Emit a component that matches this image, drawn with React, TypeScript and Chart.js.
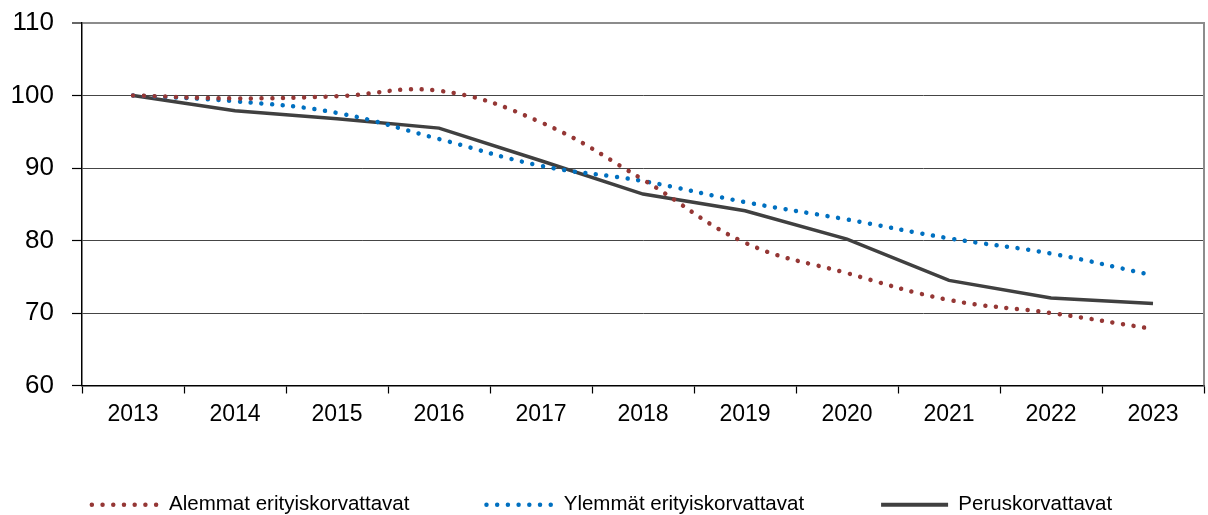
import React, { useEffect, useRef } from "react";
import { Chart, registerables } from "chart.js";

Chart.register(...registerables);

const years = ["2013", "2014", "2015", "2016", "2017", "2018", "2019", "2020", "2021", "2022", "2023"];
const seriesLabels = ["Alemmat erityiskorvattavat", "Ylemmät erityiskorvattavat", "Peruskorvattavat"];
const alemmat = [100, 99.6, 99.9, 100.65, 96.3, 88.4, 79.7, 75.5, 71.8, 70.0, 67.8];
const ylemmat = [100, 99.2, 97.6, 94.0, 90.3, 88.2, 85.3, 82.9, 80.3, 78.2, 75.2];
const perus = [100, 97.9, 96.8, 95.5, 91.0, 86.4, 84.1, 80.2, 74.5, 72.06, 71.3];
const yTicks = [60, 70, 80, 90, 100, 110];

const FONT = "'Liberation Sans', Arial, Helvetica, sans-serif";

export default function App() {
  const ref = useRef<HTMLCanvasElement>(null);

  useEffect(() => {
    const frame = {
      id: "frame",
      beforeDatasetsDraw(chart: any) {
        const { ctx, chartArea: a } = chart;
        ctx.save();
        ctx.strokeStyle = "#8c8c8c";
        ctx.lineWidth = 2;
        ctx.beginPath();
        ctx.moveTo(a.right, a.top - 1);
        ctx.lineTo(a.right, a.bottom);
        ctx.stroke();
        ctx.restore();
      },
    };

    const chart = new Chart(ref.current as HTMLCanvasElement, {
      type: "line",
      data: {
        labels: years,
        datasets: [
          {
            label: seriesLabels[0],
            data: alemmat,
            borderColor: "#953735",
            backgroundColor: "#953735",
            borderWidth: 4.5,
            borderDash: [0.01, 10.7],
            borderCapStyle: "round",
            tension: 0.4,
            pointRadius: 0,
            fill: false,
          },
          {
            label: seriesLabels[1],
            data: ylemmat,
            borderColor: "#0070C0",
            backgroundColor: "#0070C0",
            borderWidth: 4.5,
            borderDash: [0.01, 10.7],
            borderCapStyle: "round",
            tension: 0.4,
            pointRadius: 0,
            fill: false,
          },
          {
            label: seriesLabels[2],
            data: perus,
            borderColor: "#404040",
            backgroundColor: "#404040",
            borderWidth: 3.5,
            tension: 0,
            pointRadius: 0,
            fill: false,
          },
        ],
      } as any,
      options: {
        responsive: false,
        animation: false,
        layout: { padding: { top: 23, right: 4, left: 0, bottom: -10 } },
        plugins: {
          legend: {
            position: "bottom",
            labels: {
              usePointStyle: true,
              pointStyle: "line",
              pointStyleWidth: 67,
              padding: 77,
              color: "#000",
              font: { size: 20.5, family: FONT },
              generateLabels: (c: any) =>
                c.data.datasets.map((ds: any, i: number) => ({
                  text: ds.label,
                  strokeStyle: ds.borderColor,
                  fillStyle: ds.borderColor,
                  lineWidth: ds.borderDash ? 4.5 : 4,
                  lineDash: ds.borderDash || [],
                  lineCap: ds.borderDash ? "round" : "butt",
                  pointStyle: "line",
                  rotation: 0,
                  hidden: false,
                  datasetIndex: i,
                  fontColor: "#000",
                })),
            },
          },
          tooltip: { enabled: false },
        },
        scales: {
          x: {
            offset: true,
            grid: {
              offset: true,
              drawOnChartArea: false,
              drawTicks: true,
              tickLength: 8,
              tickColor: "#000",
              tickWidth: 1.2,
            },
            border: { color: "#000", width: 1.5 },
            ticks: {
              color: "#000",
              font: { size: 23, family: FONT },
              mirror: true,
              padding: -43,
              maxRotation: 0,
            },
            afterFit: (s: any) => {
              s.height = 32;
              s.paddingLeft = 0;
              s.paddingRight = 0;
            },
          },
          y: {
            min: 60,
            max: 110,
            afterBuildTicks: (s: any) => {
              s.ticks = yTicks.map((v) => ({ value: v }));
            },
            grid: {
              color: (c: any) => (c.tick && c.tick.value === 110 ? "#8c8c8c" : "#454545"),
              lineWidth: (c: any) => (c.tick && c.tick.value === 110 ? 2 : 1),
              tickColor: "#000",
              tickLength: 10,
              tickWidth: 1.2,
            },
            border: { color: "#000", width: 1.5 },
            ticks: {
              color: "#000",
              font: { size: 26, family: FONT },
              padding: 18,
            },
            afterFit: (s: any) => {
              s.width = 82;
              s.paddingTop = 0;
              s.paddingBottom = 0;
            },
          },
        },
      } as any,
      plugins: [frame],
    });

    return () => chart.destroy();
  }, []);

  return (
    <canvas
      ref={ref}
      width={1208}
      height={515}
      style={{ position: "fixed", left: 0, top: 0, width: 1208, height: 515, display: "block", background: "#fff" }}
    />
  );
}
